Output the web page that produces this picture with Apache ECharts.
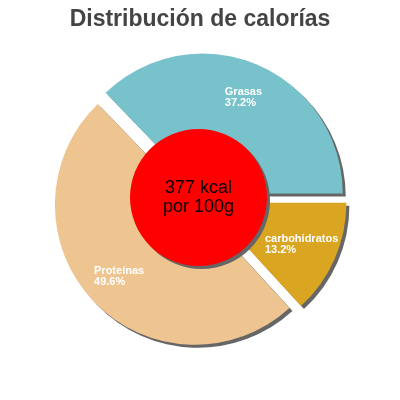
<!DOCTYPE html>
<html>

<head>
    <meta charset="utf-8">
    <script type="text/javascript" src="https://cdn.jsdelivr.net/npm/echarts@6/dist/echarts.min.js"></script>
</head>

<body style="margin: 0">
    <div id="container" style="height: 400px; width: 400px;"></div>
    <script type="text/javascript">
    var titleText = 'Distribución de calorías';
    var names = ['Grasas', 'Proteínas', 'carbohidratos'];
    var shares = [37.2, 49.6, 13.2];
    var colors = ['#78c3cb', '#eec591', '#daa520'];
    var kcal = 377;
    var centerText = kcal + ' kcal\npor 100g';

    var dom = document.getElementById("container");
    var myChart = echarts.init(dom);

    var shadow = {
        shadowColor: '#666',
        shadowBlur: 0,
        shadowOffsetX: 3,
        shadowOffsetY: 3
    };

    function slices(withColor) {
        return names.map(function (n, i) {
            return {
                name: n,
                value: shares[i],
                selected: true,
                itemStyle: withColor ? { color: colors[i] } : { color: 'rgba(0,0,0,0)' }
            };
        });
    }

    var option = {
        animation: false,
        title: {
            text: titleText,
            left: 'center',
            top: 3,
            textStyle: {
                fontFamily: 'Liberation Sans',
                fontSize: 23,
                fontWeight: 'bold',
                color: '#444'
            }
        },
        series: [{
            // slices
            type: 'pie',
            z: 2,
            center: [200, 200],
            radius: [0, 140],
            startAngle: 0,
            clockwise: false,
            selectedMode: 'multiple',
            selectedOffset: 7,
            silent: true,
            itemStyle: shadow,
            label: { show: false },
            labelLine: { show: false },
            data: slices(true)
        },{
            // centre disc
            type: 'pie',
            z: 4,
            center: [198.5, 197.5],
            radius: [0, 68.5],
            silent: true,
            itemStyle: Object.assign({ color: '#ff0000' }, shadow),
            label: {
                show: true,
                position: 'center',
                formatter: centerText,
                color: '#000',
                fontFamily: 'Liberation Sans',
                fontSize: 18,
                lineHeight: 19
            },
            labelLine: { show: false },
            data: [{ name: 'kcal', value: kcal }]
        },{
            // labels only
            type: 'pie',
            z: 6,
            center: [200, 200],
            radius: [62, 140],
            startAngle: 0,
            clockwise: false,
            selectedMode: 'multiple',
            selectedOffset: 7,
            silent: true,
            label: {
                show: true,
                position: 'inside',
                formatter: '{a|{b}}\n{a|{d}%}',
                rich: {
                    a: {
                        color: '#fff',
                        fontFamily: 'Liberation Sans',
                        fontSize: 11,
                        fontWeight: 'bold',
                        lineHeight: 11,
                        align: 'left'
                    }
                }
            },
            labelLine: { show: false },
            data: slices(false)
        }]
    };

    myChart.setOption(option);
    </script>
</body>
</html>
